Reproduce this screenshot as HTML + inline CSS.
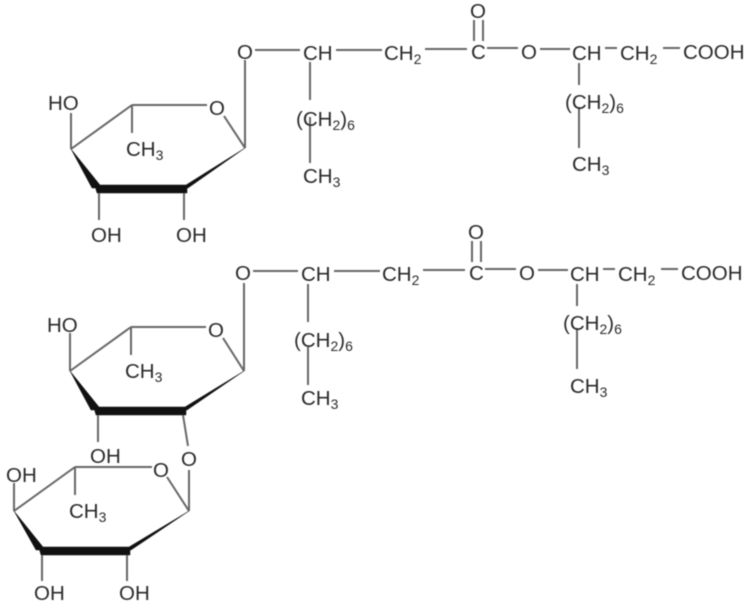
<!DOCTYPE html>
<html><head><meta charset="utf-8"><style>
html,body{margin:0;padding:0;background:#fff;width:748px;height:609px;overflow:hidden}
svg{display:block;filter:blur(.6px)}
text{font-family:"Liberation Sans",sans-serif;font-size:20.5px;fill:#2a2a2a}
tspan.s{font-size:14px}
.l{stroke:#666;stroke-width:2;fill:none}
.w{fill:#111;stroke:#111;stroke-width:.5}
</style></head><body>
<svg width="748" height="609" viewBox="0 0 748 609" xmlns="http://www.w3.org/2000/svg">
<!-- top chain -->
<g>
<path class="l" d="M255 50H300M336 50H382M425 49H467M474 20V41M483 20V41M487 48H518M540 49H570M605 48H617M663 48H680"/>
<path class="l" d="M310 62V100M310 117V163M579 63V85M579 107V148"/>
<text x="237" y="59">O</text>
<text x="303" y="60">CH</text>
<text x="384" y="60">CH<tspan class="s" dy="4">2</tspan></text>
<text x="471" y="59">C</text>
<text x="470" y="18">O</text>
<text x="521" y="59">O</text>
<text x="572" y="60">CH</text>
<text x="620" y="60">CH<tspan class="s" dy="4">2</tspan></text>
<text x="683" y="59">COOH</text>
<text x="296" y="126">(CH<tspan class="s" dy="4">2</tspan><tspan dy="-4">)</tspan><tspan class="s" dy="4">6</tspan></text>
<text x="303" y="183">CH<tspan class="s" dy="4">3</tspan></text>
<text x="565" y="109">(CH<tspan class="s" dy="4">2</tspan><tspan dy="-4">)</tspan><tspan class="s" dy="4">6</tspan></text>
<text x="572" y="171">CH<tspan class="s" dy="4">3</tspan></text>
</g>
<!-- top ring -->
<g>
<path class="l" d="M245 148V60M224 116L245 148M132 105H207M132 105L71 149M132 105V133M71 149V113"/>
<path class="w" d="M71 149L92 188H188L245 148L186 185H100Z"/>
<path class="w" d="M95 186H187V193H97Z"/>
<path class="l" d="M99 193V220M184 193V220"/>
<text x="209" y="115">O</text>
<text x="48" y="110">HO</text>
<text x="126" y="156">CH<tspan class="s" dy="4">3</tspan></text>
<text x="91" y="242">OH</text>
<text x="176" y="242">OH</text>
</g>
<!-- middle chain -->
<g>
<path class="l" d="M253 271H298M334 271H380M423 270H465M472 241V262M481 241V262M485 269H516M538 270H568M603 269H615M661 269H678"/>
<path class="l" d="M308 284V322M308 347V385M577 284V306M577 328V369"/>
<text x="235" y="280">O</text>
<text x="301" y="281">CH</text>
<text x="382" y="281">CH<tspan class="s" dy="4">2</tspan></text>
<text x="469" y="280">C</text>
<text x="468" y="239">O</text>
<text x="519" y="280">O</text>
<text x="570" y="281">CH</text>
<text x="618" y="281">CH<tspan class="s" dy="4">2</tspan></text>
<text x="681" y="280">COOH</text>
<text x="294" y="347">(CH<tspan class="s" dy="4">2</tspan><tspan dy="-4">)</tspan><tspan class="s" dy="4">6</tspan></text>
<text x="301" y="405">CH<tspan class="s" dy="4">3</tspan></text>
<text x="563" y="330">(CH<tspan class="s" dy="4">2</tspan><tspan dy="-4">)</tspan><tspan class="s" dy="4">6</tspan></text>
<text x="570" y="393">CH<tspan class="s" dy="4">3</tspan></text>
</g>
<!-- middle ring -->
<g>
<path class="l" d="M244 371V283M223 338L244 371M131 327H206M131 327L70 371M131 327V355M70 371V333"/>
<path class="w" d="M70 371L91 410H187L244 371L185 407H99Z"/>
<path class="w" d="M94 408H186V415H96Z"/>
<path class="l" d="M98 415V442M183 415L188 446"/>
<text x="208" y="337">O</text>
<text x="47" y="332">HO</text>
<text x="125" y="378">CH<tspan class="s" dy="4">3</tspan></text>
<text x="90" y="463">OH</text>
<text x="181" y="466">O</text>
</g>
<!-- bottom ring -->
<g>
<path class="l" d="M189 470V511M167 477L189 511M75 467H152M75 467L14 511M75 467V495M14 511V483"/>
<path class="w" d="M14 511L36 550H131L189 511L129 547H43Z"/>
<path class="w" d="M39 548H130V555H41Z"/>
<path class="l" d="M42 555V581M127 555V581"/>
<text x="153" y="477">O</text>
<text x="6" y="482">OH</text>
<text x="69" y="518">CH<tspan class="s" dy="4">3</tspan></text>
<text x="34" y="600">OH</text>
<text x="119" y="600">OH</text>
</g>
</svg>
</body></html>
